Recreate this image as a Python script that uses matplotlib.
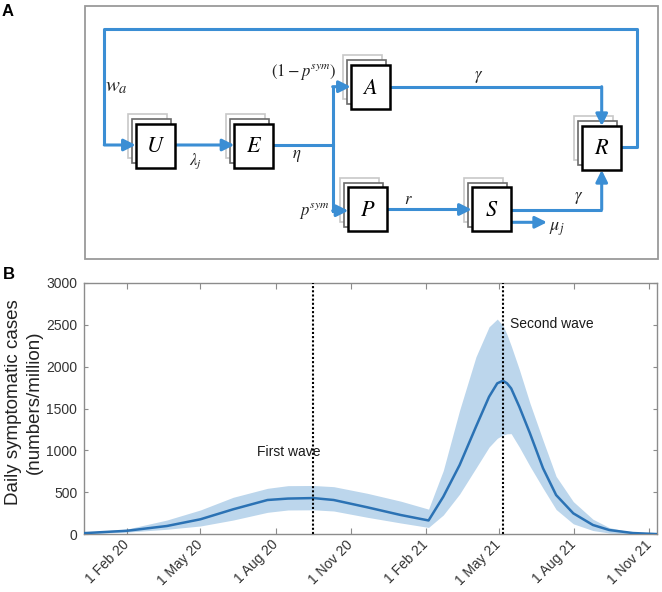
import numpy as np
import matplotlib
matplotlib.use("Agg")
import matplotlib.pyplot as plt
from matplotlib.patches import Rectangle
import matplotlib.transforms as mtransforms

plt.rcParams['font.family'] = ['Liberation Sans', 'DejaVu Sans']
plt.rcParams['mathtext.fontset'] = 'stix'

# ---------------- data ----------------
dates = ['2019-12-11', '2020-02-01', '2020-03-21', '2020-05-01', '2020-06-10',
         '2020-07-22', '2020-08-16', '2020-09-16', '2020-10-11', '2020-11-21',
         '2021-01-01', '2021-02-04', '2021-02-22', '2021-03-14', '2021-04-03',
         '2021-04-19', '2021-04-29', '2021-05-06', '2021-05-11', '2021-05-16',
         '2021-05-26', '2021-06-08', '2021-06-24', '2021-07-10', '2021-07-31',
         '2021-08-24', '2021-09-13', '2021-10-12', '2021-11-10']
mean_cases = [14, 42, 99, 179, 298, 409, 426, 432, 409, 322,
              230, 165, 448, 826, 1283, 1640, 1800, 1831, 1800, 1740,
              1521, 1204, 787, 468, 250, 111, 51, 15, 3]
lower_cases = [5, 26, 60, 99, 170, 262, 290, 292, 278, 203,
               135, 82, 230, 480, 790, 1040, 1144, 1184, 1198, 1200,
               1040, 812, 549, 296, 125, 45, 15, 3, 1]
upper_cases = [24, 62, 170, 290, 441, 548, 580, 582, 568, 489,
               395, 300, 760, 1480, 2117, 2474, 2566, 2490, 2380, 2249,
               1965, 1563, 1120, 691, 390, 180, 80, 20, 5]
wave_dates = ['2020-09-16', '2021-05-06']
wave_labels = ['First wave', 'Second wave']
tick_dates = ['2020-02-01', '2020-05-01', '2020-08-01', '2020-11-01',
              '2021-02-01', '2021-05-01', '2021-08-01', '2021-11-01']
tick_labels = ['1 Feb 20', '1 May 20', '1 Aug 20', '1 Nov 20',
               '1 Feb 21', '1 May 21', '1 Aug 21', '1 Nov 21']
y_ticks = [0, 500, 1000, 1500, 2000, 2500, 3000]

compartments = ['U', 'E', 'A', 'P', 'S', 'R']

# ---------------- figure ----------------
W, H = 662, 592
fig = plt.figure(figsize=(W / 100, H / 100), dpi=100)

# ---- panel A: compartment diagram, pixel coordinates ----
axA = fig.add_axes([0, 0, 1, 1])
axA.set_xlim(0, W)
axA.set_ylim(H, 0)
axA.axis('off')

blue = '#3B8ED4'
bw, bh = 39, 44
pos = {'U': (135.7, 124), 'E': (234.3, 124), 'A': (350.7, 65),
       'P': (348.3, 187.3), 'S': (471.7, 187.3), 'R': (581.7, 126)}

axA.add_patch(Rectangle((85, 6), 573, 253, fill=False, ec='#9a9a9a', lw=1.3))

for name in compartments:
    x0, y0 = pos[name]
    axA.add_patch(Rectangle((x0 - 8, y0 - 9.6), bw, bh, fc='white', ec='#c8c8c8', lw=1.2, zorder=1))
    axA.add_patch(Rectangle((x0 - 4, y0 - 4.8), bw, bh, fc='white', ec='#6a6a6a', lw=1.2, zorder=1.5))
    axA.add_patch(Rectangle((x0, y0), bw, bh, fc='white', ec='black', lw=1.8, zorder=3))
    axA.text(x0 + bw / 2, y0 + bh / 2 + 1, '$' + name + '$', fontsize=16,
             ha='center', va='center', zorder=4)

def path(pts, arrow=True):
    xs = [p[0] for p in pts]
    ys = [p[1] for p in pts]
    if arrow:
        axA.plot(xs[:-1], ys[:-1], color=blue, lw=2.2, zorder=2, solid_capstyle='butt')
        axA.annotate('', xy=pts[-1], xytext=pts[-2],
                     arrowprops=dict(arrowstyle='-|>,head_length=0.7,head_width=0.35',
                                     color=blue, lw=2.2, shrinkA=0, shrinkB=0),
                     zorder=2)
    else:
        axA.plot(xs, ys, color=blue, lw=2.2, zorder=2)

path([(620.7, 146.7), (636.7, 146.7), (636.7, 29), (104.3, 29), (104.3, 145), (135.7, 145)])
path([(174.7, 145), (234.3, 145)])
path([(273.3, 145), (332.7, 145)], arrow=False)
path([(332.7, 86.7), (332.7, 210.7)], arrow=False)
path([(332.7, 86.7), (350.7, 86.7)])
path([(332.7, 210.7), (348.3, 210.7)])
path([(389.7, 86.7), (601.7, 86.7), (601.7, 126)])
path([(387.3, 209.5), (471.7, 209.5)])
path([(510.7, 209.5), (601.7, 209.5), (601.7, 170)])
path([(510.7, 222.3), (547, 222.3)])

lab = dict(ha='center', va='center', color='#222222')
axA.text(116, 86, '$w_a$', fontsize=15, **lab)
axA.text(196, 161, r'$\lambda_j$', fontsize=12, **lab)
axA.text(297, 156, r'$\eta$', fontsize=12, **lab)
axA.text(304, 72, r'$(1-p^{sym})$', fontsize=12, **lab)
axA.text(479, 77, r'$\gamma$', fontsize=12, **lab)
axA.text(314, 211, r'$p^{sym}$', fontsize=12, **lab)
axA.text(408, 200, r'$r$', fontsize=12, **lab)
axA.text(579, 198, r'$\gamma$', fontsize=12, **lab)
axA.text(557, 229, r'$\mu_j$', fontsize=13, **lab)

fig.text(8 / W, 1 - 11 / H, 'A', fontsize=12, fontweight='bold', ha='center', va='center')
fig.text(9 / W, 1 - 275 / H, 'B', fontsize=12, fontweight='bold', ha='center', va='center')

# ---- panel B: epidemic curve ----
axB = fig.add_axes([84.3 / W, 1 - 534.3 / H, (656.7 - 84.3) / W, (534.3 - 282.7) / H])
d = np.array(dates, dtype='datetime64[D]')
axB.fill_between(d, lower_cases, upper_cases, color='#BCD6EC', lw=0, zorder=1)
axB.plot(d, mean_cases, color='#2B72B4', lw=1.8, zorder=3)

for wd, wl, ty, dx in zip(wave_dates, wave_labels, [985, 2503], [-69, 8]):
    wdt = np.datetime64(wd, 'D')
    axB.axvline(wdt, color='black', ls=(0, (1, 1)), lw=1.5, zorder=4)
    axB.text(wdt + np.timedelta64(dx, 'D'), ty, wl, fontsize=10, color='#1a1a1a',
             ha='left', va='center', zorder=5)

axB.set_xlim(np.datetime64('2019-12-11'), np.datetime64('2021-11-10'))
axB.set_ylim(0, 3000)
axB.set_xticks(np.array(tick_dates, dtype='datetime64[D]'))
axB.set_xticklabels(tick_labels, rotation=45, ha='right', va='center',
                    rotation_mode='anchor', fontsize=10, color='#333333')
offset = mtransforms.ScaledTranslation(8 / 100, -4 / 100, fig.dpi_scale_trans)
for lbl in axB.get_xticklabels():
    lbl.set_transform(lbl.get_transform() + offset)
axB.set_yticks(y_ticks)
axB.set_yticklabels([str(v) for v in y_ticks], fontsize=10, color='#333333')

for sp in axB.spines.values():
    sp.set_color('#8c8c8c')
    sp.set_linewidth(1.0)
axB.tick_params(axis='x', direction='in', top=True, length=4, color='#8c8c8c', pad=6)
axB.tick_params(axis='y', direction='in', right=True, length=3, color='#8c8c8c', pad=5)

fig.text(24 / W, 1 - 402 / H, 'Daily symptomatic cases\n(numbers/million)', fontsize=13.5,
         rotation=90, ha='center', va='center', multialignment='center',
         linespacing=1.3, color='#222222')

fig.savefig('out.png', dpi=100)
